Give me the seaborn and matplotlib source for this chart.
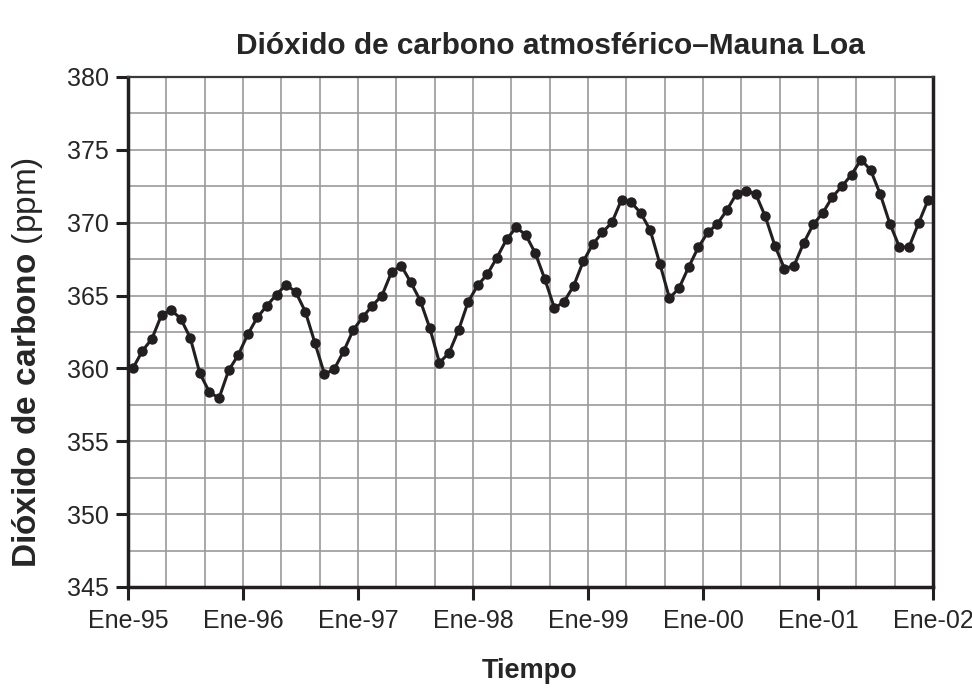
import numpy as np
import pandas as pd
import matplotlib
matplotlib.use("Agg")
import matplotlib.pyplot as plt
from matplotlib.ticker import MultipleLocator
import seaborn as sns

# valores mensuales de CO2 (ppm), ene-1995 a dic-2001
co2_1995 = [360.0, 361.2, 362.04, 363.67, 364.01, 363.42, 362.09, 359.66, 358.37, 357.96, 359.86, 360.92]
co2_1996 = [362.34, 363.51, 364.31, 365.07, 365.75, 365.25, 363.9, 361.76, 359.61, 359.93, 361.17, 362.64]
co2_1997 = [363.53, 364.31, 365.0, 366.61, 367.06, 365.92, 364.65, 362.75, 360.39, 361.07, 362.64, 364.58]
co2_1998 = [365.71, 366.47, 367.61, 368.85, 369.68, 369.17, 367.91, 366.12, 364.13, 364.58, 365.66, 367.34]
co2_1999 = [368.53, 369.33, 370.02, 371.58, 371.4, 370.67, 369.47, 367.18, 364.82, 365.51, 366.95, 368.3]
co2_2000 = [369.33, 369.92, 370.87, 372.0, 372.2, 371.97, 370.43, 368.42, 366.85, 367.05, 368.6, 369.88]
co2_2001 = [370.67, 371.77, 372.5, 373.3, 374.33, 373.6, 371.95, 369.93, 368.33, 368.33, 369.98, 371.58]

year_labels = ["Ene-95", "Ene-96", "Ene-97", "Ene-98", "Ene-99", "Ene-00", "Ene-01", "Ene-02"]

co2 = co2_1995 + co2_1996 + co2_1997 + co2_1998 + co2_1999 + co2_2000 + co2_2001
df = pd.DataFrame({"mes": np.arange(len(co2)) + 0.5, "co2": co2})

sns.set_style("white")
plt.rcParams["font.family"] = ["Liberation Sans", "DejaVu Sans"]
plt.rcParams["mathtext.fontset"] = "custom"
plt.rcParams["mathtext.rm"] = "Liberation Sans"
plt.rcParams["mathtext.bf"] = "Liberation Sans:bold"

fig = plt.figure(figsize=(9.72, 6.91), dpi=100)
ax = fig.add_axes([128 / 972, 1 - 587 / 691, 805 / 972, 510 / 691])

sns.lineplot(data=df, x="mes", y="co2", ax=ax, color="#231f20", linewidth=2.2,
             marker="o", markersize=7.5, markeredgewidth=0, zorder=3)

ax.set_xlim(0, 84)
ax.set_ylim(345, 380)
ax.set_xticks(np.arange(0, 85, 12))
ax.set_xticklabels(year_labels)
ax.xaxis.set_minor_locator(MultipleLocator(4))
ax.yaxis.set_major_locator(MultipleLocator(5))
ax.yaxis.set_minor_locator(MultipleLocator(2.5))
ax.grid(True, which="both", color="#9a9a9a", linewidth=1.2)
ax.set_axisbelow(True)

ax.tick_params(which="major", direction="out", length=9, width=2.2, color="#231f20",
               labelsize=18, pad=5, bottom=True, left=True)
ax.tick_params(axis="x", which="major", pad=7)
ax.tick_params(which="minor", length=0)

for side in ["left", "bottom", "right"]:
    ax.spines[side].set_color("#231f20")
    ax.spines[side].set_linewidth(2.5)
ax.spines["top"].set_color("#3a3a3a")
ax.spines["top"].set_linewidth(1.6)

ax.set_xlabel("")
ax.set_ylabel(r"$\mathbf{Dióxido\ de\ carbono}$ (ppm)", fontsize=24)
ax.yaxis.set_label_coords(-0.103, 0.44)

fig.text(550 / 972, 1 - 46 / 691, "Dióxido de carbono atmosférico–Mauna Loa",
         ha="center", va="center", fontsize=21.5, fontweight="bold")
fig.text(530 / 972, 1 - 671 / 691, "Tiempo", ha="center", va="center",
         fontsize=19.5, fontweight="bold")

fig.savefig("out.png", dpi=100)
